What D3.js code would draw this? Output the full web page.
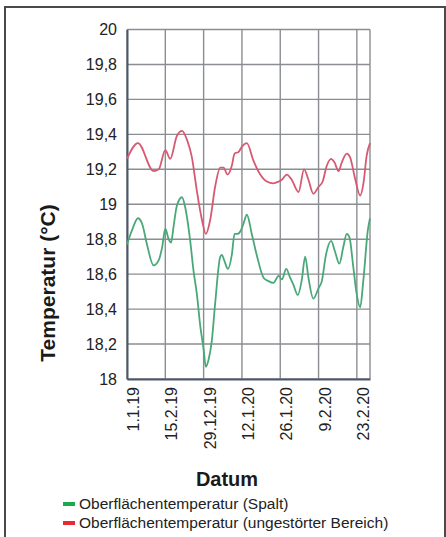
<!DOCTYPE html>
<html>
<head>
<meta charset="utf-8">
<script src="https://cdn.jsdelivr.net/npm/d3@7"></script>
<style>
  body { margin: 0; background: #fff; }
  svg { display: block; font-family: "Liberation Sans", Arial, sans-serif; }
</style>
</head>
<body>
<svg id="chart" width="446" height="537"></svg>
<script>
// tick labels on the date axis (every 14 days)
var tickLabels = ['1.1.19', '15.2.19', '29.12.19', '12.1.20', '26.1.20', '9.2.20', '23.2.20'];
var tickDays   = [0, 14, 28, 42, 56, 70, 84];
var yTicks     = [18, 18.2, 18.4, 18.6, 18.8, 19, 19.2, 19.4, 19.6, 19.8, 20];

// Oberflächentemperatur (ungestörter Bereich)
var redDays  = [0, 4.0, 9.7, 11.6, 14.0, 15.8, 18.2, 20.1, 21.9, 23.7, 25.5, 27.4, 28.8, 30.4, 32.2, 34.1,
                35.3, 36.7, 38.3, 39.3, 40.8, 42.0, 43.8, 46.2, 48.7, 51.1, 53.5, 55.4, 56.6, 58.4, 60.2,
                62.7, 64.7, 66.3, 68.1, 70.0, 71.5, 73.0, 74.6, 75.8, 77.3, 78.5, 80.3, 81.5, 83.3, 85.2,
                86.4, 87.6, 88.8];
var redTemps = [19.26, 19.35, 19.19, 19.20, 19.31, 19.26, 19.39, 19.42, 19.37, 19.27, 19.08, 18.91, 18.83, 18.91, 19.10, 19.21,
                19.21, 19.17, 19.22, 19.29, 19.30, 19.33, 19.35, 19.25, 19.17, 19.13, 19.12, 19.13, 19.14, 19.17, 19.14,
                19.07, 19.20, 19.14, 19.06, 19.10, 19.13, 19.22, 19.26, 19.24, 19.19, 19.24, 19.29, 19.27, 19.15, 19.05,
                19.12, 19.28, 19.35];

// Oberflächentemperatur (Spalt)
var greenDays  = [0, 1.8, 4.0, 5.5, 7.3, 9.7, 11.6, 12.8, 14.0, 15.2, 16.1, 17.0, 18.2, 20.1, 21.3, 23.1, 24.3,
                  25.5, 26.8, 28.0, 28.8, 29.8, 31.0, 32.2, 34.1, 34.7, 35.5, 36.9, 38.3, 39.3, 40.4, 41.6, 42.6,
                  43.8, 45.6, 47.4, 49.9, 51.7, 53.5, 55.4, 56.6, 58.2, 59.6, 60.8, 62.4, 63.9, 65.1, 66.3, 68.1,
                  70.0, 71.2, 72.7, 74.6, 76.0, 77.6, 79.1, 80.3, 81.3, 82.7, 83.9, 85.2, 86.4, 88.0, 88.8];
var greenTemps = [18.77, 18.85, 18.92, 18.89, 18.77, 18.65, 18.68, 18.75, 18.86, 18.80, 18.78, 18.87, 18.99, 19.04, 18.98, 18.79, 18.62,
                  18.49, 18.30, 18.17, 18.07, 18.11, 18.22, 18.43, 18.70, 18.71, 18.68, 18.63, 18.71, 18.83, 18.83, 18.85, 18.89,
                  18.94, 18.83, 18.71, 18.58, 18.56, 18.55, 18.59, 18.57, 18.63, 18.58, 18.54, 18.48, 18.57, 18.70, 18.58, 18.46,
                  18.52, 18.56, 18.71, 18.79, 18.73, 18.66, 18.76, 18.83, 18.81, 18.64, 18.49, 18.41, 18.57, 18.85, 18.92];

var series = [
  { name: 'Oberflächentemperatur (Spalt)', days: greenDays, temps: greenTemps, line: '#4aa878', key: '#1ca84e' },
  { name: 'Oberflächentemperatur (ungestörter Bereich)', days: redDays, temps: redTemps, line: '#d65a72', key: '#ea2a32' }
];

var svg = d3.select('#chart');

var plotLeft = 127, plotRight = 370, plotTop = 29.5, plotBottom = 379;

var x = d3.scaleLinear().domain([0, 88.8]).range([plotLeft, plotRight]);
var y = d3.scaleLinear().domain([18, 20]).range([plotBottom, plotTop]);

// outer frame
svg.append('rect')
   .attr('x', 5).attr('y', 7)
   .attr('width', 440).attr('height', 560)
   .attr('fill', 'none')
   .attr('stroke', '#4a4a4a')
   .attr('stroke-width', 2);

// grid
svg.append('g')
   .selectAll('line')
   .data(yTicks)
   .enter()
   .append('line')
   .attr('x1', plotLeft).attr('x2', plotRight)
   .attr('y1', function(d) { return y(d) })
   .attr('y2', function(d) { return y(d) })
   .attr('stroke', '#8a8d92')
   .attr('stroke-width', 1.4);

svg.append('g')
   .selectAll('line')
   .data(tickDays.concat([88.8]))
   .enter()
   .append('line')
   .attr('x1', function(d) { return x(d) })
   .attr('x2', function(d) { return x(d) })
   .attr('y1', plotTop).attr('y2', plotBottom)
   .attr('stroke', '#8a8d92')
   .attr('stroke-width', 1.4);

// y axis
var yAxis = d3.axisLeft(y)
              .tickValues(yTicks)
              .tickSize(0)
              .tickPadding(10)
              .tickFormat(function(d) { return String(d).replace('.', ',') });

svg.append('g')
   .attr('transform', 'translate(' + plotLeft + ',0)')
   .call(yAxis)
   .call(function(g) { g.select('.domain').attr('stroke', '#4d5866').attr('stroke-width', 2) })
   .selectAll('text')
   .attr('font-size', '16px')
   .attr('fill', '#222')
   .attr('font-family', '"Liberation Sans", Arial, sans-serif');

// x axis
var xAxis = d3.axisBottom(x)
              .tickValues(tickDays)
              .tickSize(0)
              .tickFormat(function(d, i) { return tickLabels[i] });

var xg = svg.append('g')
            .attr('transform', 'translate(0,' + plotBottom + ')')
            .call(xAxis);

xg.select('.domain').attr('stroke', '#4d5866').attr('stroke-width', 2);

xg.selectAll('text')
  .attr('font-size', '16px')
  .attr('fill', '#222')
  .attr('font-family', '"Liberation Sans", Arial, sans-serif')
  .attr('text-anchor', 'end')
  .attr('dy', '0.35em')
  .attr('transform', 'translate(6,8) rotate(-90)')
  .attr('x', 0).attr('y', 0);

// lines
var line = d3.line()
             .x(function(d) { return x(d[0]) })
             .y(function(d) { return y(d[1]) })
             .curve(d3.curveMonotoneX);

series.forEach(function(s) {
  svg.append('path')
     .datum(d3.zip(s.days, s.temps))
     .attr('d', line)
     .attr('fill', 'none')
     .attr('stroke', s.line)
     .attr('stroke-width', 1.8);
});

// axis titles
svg.append('text')
   .attr('transform', 'translate(55,283) rotate(-90)')
   .attr('text-anchor', 'middle')
   .attr('font-size', '21px')
   .attr('font-weight', 'bold')
   .attr('fill', '#1a1a1a')
   .text('Temperatur (°C)');

svg.append('text')
   .attr('x', 227).attr('y', 486)
   .attr('text-anchor', 'middle')
   .attr('font-size', '20px')
   .attr('font-weight', 'bold')
   .attr('fill', '#1a1a1a')
   .text('Datum');

// legend
var legend = svg.append('g')
                .selectAll('g')
                .data(series)
                .enter()
                .append('g')
                .attr('transform', function(d, i) { return 'translate(63,' + (504 + i * 19) + ')' });

legend.append('rect')
      .attr('x', 0).attr('y', -2)
      .attr('width', 12).attr('height', 4)
      .attr('fill', function(d) { return d.key });

legend.append('text')
      .attr('x', 16).attr('y', 0)
      .attr('dy', '0.35em')
      .attr('font-size', '15.5px')
      .attr('fill', '#222')
      .text(function(d) { return d.name });
</script>
</body>
</html>
